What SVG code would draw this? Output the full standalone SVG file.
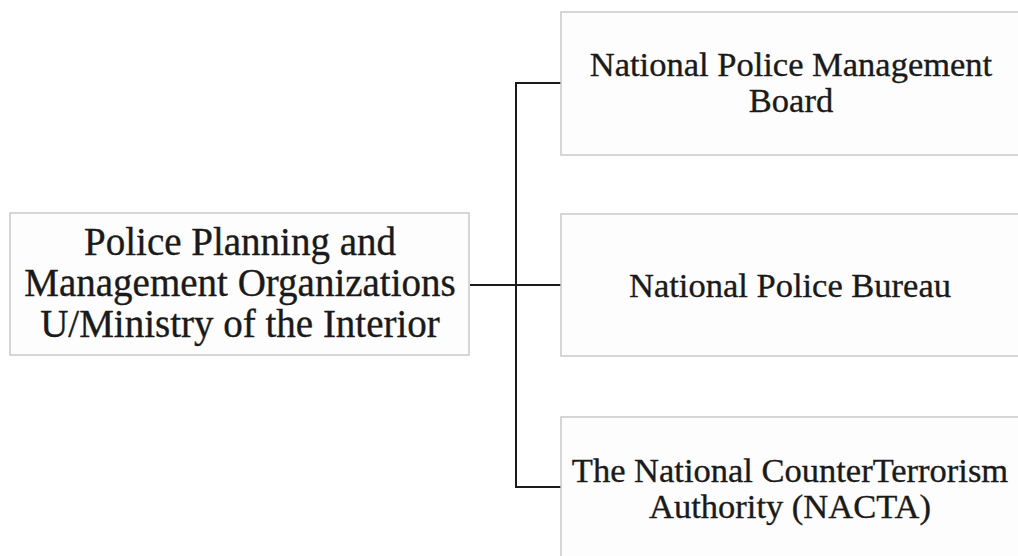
<svg xmlns="http://www.w3.org/2000/svg" width="1018" height="556" viewBox="0 0 1018 556">
  <style>
    .box { fill: #fdfdfd; stroke: #c9c9c9; stroke-width: 1.5; }
    .label { font-family: "Liberation Serif", "Times New Roman", serif; fill: #1a1a1a; stroke: #1a1a1a; stroke-width: 0.35; text-anchor: middle; }
    .big { font-size: 39px; }
    .mid { font-size: 34.5px; }
    .wire { fill: none; stroke: #1a1a1a; stroke-width: 2; }
  </style>
  <rect width="1018" height="556" fill="#ffffff"/>

  <!-- bracket joining the ministry box to its three bodies -->
  <g id="connectors">
    <line class="wire" x1="470" y1="285" x2="561" y2="285"/>
    <polyline class="wire" points="561,83 516,83 516,487 561,487"/>
  </g>

  <g id="root">
    <rect class="box" x="10" y="213" width="459" height="142"/>
    <text class="label big" x="240" y="255">Police Planning and</text>
    <text class="label big" x="240" y="296">Management Organizations</text>
    <text class="label big" x="240" y="337">U/Ministry of the Interior</text>
  </g>

  <g id="management-board">
    <rect class="box" x="561" y="12" width="470" height="143"/>
    <text class="label mid" x="791" y="76">National Police Management</text>
    <text class="label mid" x="791" y="112">Board</text>
  </g>

  <g id="police-bureau">
    <rect class="box" x="561" y="214" width="470" height="142"/>
    <text class="label mid" x="790" y="297">National Police Bureau</text>
  </g>

  <g id="nacta">
    <rect class="box" x="561" y="417" width="470" height="150"/>
    <text class="label mid" x="790" y="482">The National CounterTerrorism</text>
    <text class="label mid" x="790" y="518">Authority (NACTA)</text>
  </g>
</svg>
